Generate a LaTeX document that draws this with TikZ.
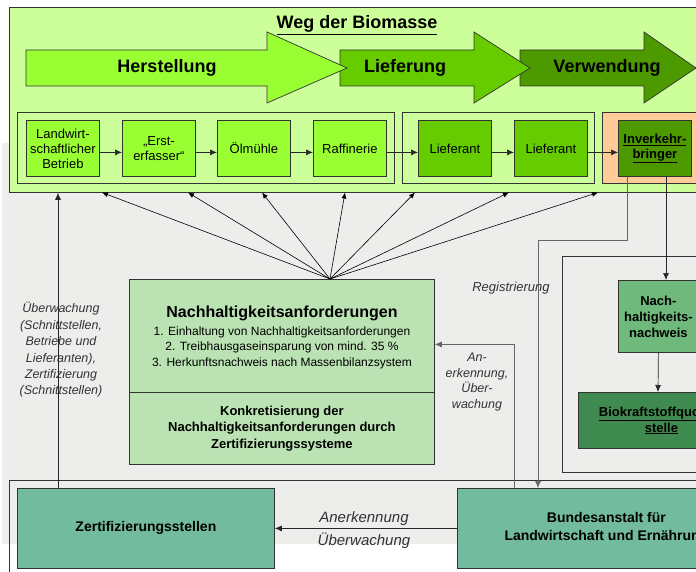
\documentclass[tikz,border=0pt]{standalone}
\usepackage{fontspec}
\setmainfont{Liberation Sans}
\usetikzlibrary{arrows.meta}
\definecolor{bggray}{HTML}{EDEDEB}
\definecolor{outergreen}{HTML}{CCFF99}
\definecolor{herst}{HTML}{99FF33}
\definecolor{liefer}{HTML}{66CC00}
\definecolor{verw}{HTML}{4C9900}
\definecolor{peach}{HTML}{FFCC99}
\definecolor{nhgreen}{HTML}{BBE2B3}
\definecolor{nwgreen}{HTML}{70B97D}
\definecolor{biogreen}{HTML}{3F8A4F}
\definecolor{tealbox}{HTML}{72BB9E}
\definecolor{edgecol}{HTML}{333333}
\begin{document}
\begin{tikzpicture}[x=1pt,y=-1pt,
  box/.style={draw=edgecol, line width=0.8pt, anchor=north west, inner sep=0pt, align=center},
  small/.style={box, minimum width=73pt, minimum height=56pt, font=\fontsize{13}{15}\selectfont},
  conn/.style={draw=black!85, line width=0.7pt, -{Latex[length=7pt,width=6pt]}},
  grayconn/.style={draw=black!60, line width=0.7pt, -{Latex[length=7pt,width=6pt]}},
  fan/.style={draw=black, line width=0.6pt, -{Latex[length=6pt,width=5pt]}},
  lbl/.style={font=\fontsize{12.5}{16.4}\selectfont\itshape, text=black!80, align=center, inner sep=0pt},
  bigarrow/.style={draw=edgecol, line width=0.7pt},
  arrowtext/.style={font=\fontsize{18}{20}\selectfont\bfseries},
  frame/.style={draw=edgecol, line width=0.7pt}
]
\useasboundingbox (0,0) rectangle (696,572);
\clip (0,0) rectangle (696,572);
\fill[bggray] (2,143) rectangle (696,544);

% outer green region
\node[box, fill=outergreen, minimum width=720pt, minimum height=185pt] (outer) at (9,7) {};
\node[font=\fontsize{18}{20}\selectfont\bfseries] (title) at (357,25) {\underline{Weg der Biomasse}};

% big arrows
\filldraw[bigarrow, fill=verw] (520,50) -- (644,50) -- (644,32) -- (696,68) -- (644,103) -- (644,86) -- (520,86) -- cycle;
\filldraw[bigarrow, fill=liefer] (340,50) -- (474,50) -- (474,32) -- (530,68) -- (474,103) -- (474,86) -- (340,86) -- cycle;
\filldraw[bigarrow, fill=herst] (26,50) -- (267,50) -- (267,32) -- (347,68) -- (267,103) -- (267,86) -- (26,86) -- cycle;
\node[arrowtext] (hT) at (167,68) {Herstellung};
\node[arrowtext] (lT) at (405,68) {Lieferung};
\node[arrowtext] (vT) at (607,68) {Verwendung};

% groups
\node[box, fill=outergreen, minimum width=377pt, minimum height=71pt] (g1) at (17,112) {};
\node[box, fill=outergreen, minimum width=192pt, minimum height=71pt] (g2) at (402,112) {};
\node[box, fill=peach, minimum width=130pt, minimum height=71pt] (g3) at (602,112) {};

% small boxes
\node[small, fill=herst] (lb) at (26,120) {Landwirt-\\schaftlicher\\Betrieb};
\node[small, fill=herst] (ef) at (122,120) {„Erst-\\erfasser“};
\node[small, fill=herst] (om) at (217,120) {Ölmühle};
\node[small, fill=herst] (rf) at (313,120) {Raffinerie};
\node[small, fill=liefer] (l1) at (418,120) {Lieferant};
\node[small, fill=liefer] (l2) at (514,120) {Lieferant};
\node[small, fill=verw, font=\fontsize{13}{15}\selectfont\bfseries] (ib) at (618,120) {\underline{Inverkehr-}\\\underline{bringer}};

\foreach \a/\b in {lb/ef,ef/om,om/rf,rf/l1,l1/l2,l2/ib}
  \draw[conn] ([yshift=-4pt]\a.east) -- ([yshift=-4pt]\b.west);

% frames
\node[box, fill=none, minimum width=160pt, minimum height=216pt] (fr1) at (562,256) {};
\node[box, fill=none, minimum width=720pt, minimum height=120pt] (fr2) at (9,480) {};

% Nachhaltigkeitsanforderungen
\node[box, fill=nhgreen, minimum width=305pt, minimum height=113pt] (nh) at (129,279) {};
\node[box, fill=nhgreen, minimum width=305pt, minimum height=72pt, font=\fontsize{13}{16.5}\selectfont\bfseries] (nhk) at (129,392) {Konkretisierung der\\Nachhaltigkeitsanforderungen durch\\Zertifizierungssysteme};
\node[font=\fontsize{16}{19}\selectfont\bfseries] (nhT) at (282,313) {Nachhaltigkeitsanforderungen};
\node[font=\fontsize{12}{15.5}\selectfont, align=center, inner sep=0pt] (nhL) at (282,347.5) {1. Einhaltung von Nachhaltigkeitsanforderungen\\2. Treibhausgaseinsparung von mind. 35 \%\\3. Herkunftsnachweis nach Massenbilanzsystem};

% right column
\node[box, fill=nwgreen, minimum width=80pt, minimum height=72pt, font=\fontsize{13}{16}\selectfont\bfseries] (nw) at (618,280) {Nach-\\haltigkeits-\\nachweis};
\node[box, fill=biogreen, minimum width=166pt, minimum height=56pt, font=\fontsize{13}{16}\selectfont\bfseries] (bio) at (578,392) {\underline{Biokraftstoffquoten-}\\\underline{stelle}};

% bottom boxes
\node[box, fill=tealbox, minimum width=257pt, minimum height=80pt, font=\fontsize{14}{17}\selectfont\bfseries] (zs) at (17,488) {Zertifizierungsstellen};
\node[box, fill=tealbox, minimum width=298pt, minimum height=80pt, font=\fontsize{14}{18}\selectfont\bfseries] (ba) at (457,488) {Bundesanstalt für\\Landwirtschaft und Ernährung};

% fan arrows
\coordinate (fo) at (330,279);
\foreach \i/\x in {1/102,2/188,3/262,4/345,5/415,6/509,7/598}{
  \coordinate (t\i) at (\x,192.5);
  \draw[fan] (fo) -- (t\i);
}

% left vertical arrow
\draw[conn] ([xshift=41pt]zs.north west) -- ([xshift=49pt]outer.south west);
\node[lbl] (ueb) at (61,350) {Überwachung\\(Schnittstellen,\\Betriebe und\\Lieferanten),\\Zertifizierung\\(Schnittstellen)};

% connectors
\draw[grayconn] ([xshift=57pt]ba.north west) |- ([yshift=-8.5pt]nh.east);
\node[lbl, font=\fontsize{12.5}{15.7}\selectfont\itshape] (anue) at (477,382) {An-\\erkennung,\\Über-\\wachung};
\draw[grayconn] ([xshift=9pt]ib.south west) -- ++(0,64) -| ([xshift=81pt]ba.north west);
\node[lbl, font=\fontsize{13}{16}\selectfont\itshape] (reg) at (511,288) {Registrierung};
\draw[conn] ([xshift=48pt]ib.south west) -- ([xshift=48pt]nw.north west);
\draw[conn] (nw.south) -- ([xshift=80pt]bio.north west);
\draw[conn] (ba.west) -- (zs.east);
\node[lbl, font=\fontsize{15}{18}\selectfont\itshape] (anB) at (364,519) {Anerkennung};
\node[lbl, font=\fontsize{15}{18}\selectfont\itshape] (ueB) at (364,541) {Überwachung};
\end{tikzpicture}
\end{document}
